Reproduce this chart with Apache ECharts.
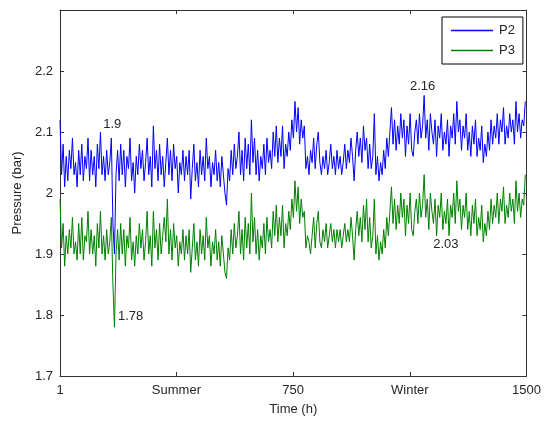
<!DOCTYPE html>
<html>
<head>
<meta charset="utf-8">
<script src="https://cdn.jsdelivr.net/npm/echarts@6/dist/echarts.min.js"></script>
<style>html,body{margin:0;padding:0;background:#fff;}#chart{width:544px;height:421px;}</style>
</head>
<body>
<div id="chart"></div>
<script>
// Time sampling (hours): first sample and spacing between samples
const startHour = 1;
const stepHours = 5;

// Tick positions (hours) and their labels on the time axis
const xTickValues = [1, 375, 750, 1125, 1500];
const xTickLabels = ['1', 'Summer', '750', 'Winter', '1500'];

const seriesNames = ['P2', 'P3'];

// P2 pressure (bar), one value every 5 h
const p2Values = [
  2.12,2.03,2.08,2.01,2.06,2.02,2.07,2.04,2.09,2.03,2.05,2.01,2.07,2.03,2.08,2.02,2.06,2.04,2.09,2.02,
  2.07,2.03,2.06,2.01,2.08,2.04,2.10,2.03,2.06,2.02,2.07,2.03,2.05,2.09,1.95,1.90,2.03,2.07,2.02,2.08,
  2.03,2.07,2.01,2.06,2.04,2.09,2.02,2.05,2.00,2.06,2.03,2.08,2.04,2.07,2.02,2.05,2.09,2.03,2.06,2.01,
  2.11,2.04,2.07,2.02,2.08,2.03,2.06,2.01,2.05,2.09,2.03,2.07,2.02,2.08,2.04,2.06,2.00,2.05,2.03,2.07,
  2.02,2.06,2.03,2.07,1.99,2.04,2.08,2.02,2.05,2.01,2.07,2.03,2.06,2.02,2.09,2.04,2.06,2.01,2.05,2.03,
  2.07,2.02,2.05,2.01,2.06,2.03,2.00,1.98,2.04,2.02,2.07,2.03,2.08,2.04,2.06,2.10,2.03,2.07,2.02,2.09,
  2.04,2.08,2.03,2.12,2.05,2.09,2.03,2.07,2.02,2.06,2.04,2.08,2.03,2.09,2.05,2.07,2.04,2.10,2.06,2.11,
  2.05,2.09,2.06,2.11,2.04,2.08,2.06,2.10,2.07,2.12,2.09,2.15,2.10,2.14,2.08,2.12,2.09,2.11,2.04,2.06,
  2.03,2.07,2.05,2.09,2.04,2.08,2.10,2.05,2.03,2.06,2.04,2.07,2.03,2.05,2.08,2.04,2.06,2.03,2.07,2.04,
  2.06,2.03,2.05,2.08,2.04,2.07,2.05,2.09,2.06,2.02,2.07,2.10,2.06,2.09,2.05,2.11,2.07,2.09,2.04,2.08,
  2.04,2.06,2.13,2.03,2.06,2.02,2.05,2.03,2.07,2.04,2.09,2.06,2.10,2.14,2.08,2.12,2.07,2.11,2.08,2.13,
  2.09,2.12,2.06,2.11,2.08,2.13,2.07,2.06,2.10,2.12,2.08,2.13,2.09,2.11,2.16,2.09,2.12,2.07,2.13,2.10,
  2.08,2.12,2.06,2.11,2.09,2.13,2.07,2.10,2.08,2.12,2.06,2.11,2.09,2.13,2.08,2.15,2.10,2.12,2.07,2.11,
  2.09,2.13,2.07,2.10,2.06,2.11,2.08,2.12,2.06,2.09,2.07,2.11,2.05,2.08,2.06,2.10,2.07,2.12,2.08,2.11,
  2.09,2.13,2.08,2.12,2.10,2.14,2.08,2.11,2.09,2.13,2.10,2.12,2.08,2.15,2.10,2.13,2.09,2.12,2.11,2.15
];

// P3 pressure (bar), one value every 5 h
const p3Values = [
  1.99,1.91,1.95,1.88,1.93,1.90,1.94,1.91,1.96,1.90,1.92,1.89,1.95,1.90,1.96,1.89,1.93,1.92,1.97,1.90,
  1.94,1.90,1.93,1.88,1.95,1.91,1.97,1.90,1.93,1.89,1.94,1.90,1.92,1.96,1.85,1.78,1.90,1.94,1.89,1.95,
  1.90,1.94,1.88,1.93,1.91,1.96,1.89,1.92,1.88,1.93,1.90,1.95,1.91,1.94,1.89,1.92,1.97,1.90,1.93,1.88,
  1.97,1.91,1.94,1.89,1.95,1.90,1.93,1.96,1.92,1.99,1.90,1.94,1.89,1.95,1.91,1.93,1.88,1.92,1.90,1.94,
  1.89,1.93,1.90,1.94,1.87,1.91,1.95,1.89,1.92,1.88,1.94,1.90,1.93,1.89,1.96,1.91,1.93,1.88,1.92,1.90,
  1.94,1.89,1.92,1.88,1.93,1.90,1.87,1.86,1.91,1.89,1.94,1.90,1.95,1.91,1.93,1.97,1.90,1.94,1.89,1.96,
  1.91,1.95,1.90,2.00,1.92,1.96,1.90,1.94,1.89,1.93,1.91,1.95,1.90,1.96,1.92,1.94,1.91,1.97,1.93,1.98,
  1.92,1.96,1.93,1.98,1.91,1.95,1.93,1.97,1.94,1.99,1.96,2.02,1.97,2.01,1.95,1.99,1.96,1.97,1.91,1.93,
  1.92,1.90,1.93,1.96,1.91,1.95,1.97,1.92,1.91,1.94,1.92,1.95,1.91,1.93,1.95,1.92,1.94,1.91,1.94,1.92,
  1.94,1.91,1.93,1.95,1.92,1.94,1.92,1.96,1.93,1.89,1.94,1.97,1.93,1.96,1.92,1.98,1.94,1.99,1.92,1.96,
  1.91,1.93,1.99,1.90,1.93,1.89,1.92,1.90,1.94,1.91,1.96,1.93,1.97,2.01,1.95,1.99,1.94,1.98,1.95,2.00,
  1.96,1.99,1.93,1.98,1.95,2.00,1.94,1.93,1.97,1.99,1.95,2.00,1.96,1.98,2.03,1.96,1.99,1.94,2.00,1.97,
  1.95,1.99,1.93,1.98,1.96,2.00,1.94,1.97,1.95,1.99,1.93,1.98,1.96,2.00,1.95,2.02,1.97,1.99,1.94,1.98,
  1.96,2.00,1.94,1.97,1.93,1.98,1.95,1.99,1.93,1.96,1.94,1.98,1.92,1.95,1.93,1.97,1.94,1.99,1.95,1.98,
  1.96,2.00,1.95,1.99,1.97,2.01,1.95,1.98,1.96,2.00,1.97,1.99,1.95,2.02,1.97,2.00,1.96,1.99,1.98,2.03
];

// Text annotations: [hour, value, text]
const p2Notes = [[169, 2.113, '1.9'], [1166, 2.175, '2.16']];
const p3Notes = [[228, 1.798, '1.78'], [1241, 1.915, '2.03']];

const FONT = "'Liberation Sans', Arial, sans-serif";
const TXT = '#262626';
const AX = '#333333';

function toPairs(vals) {
  return vals.map((v, i) => [startHour + stepHours * i, v]);
}
function notes(list) {
  return {
    symbol: 'circle', symbolSize: 0, silent: true,
    label: { show: true, position: 'inside', color: TXT, fontSize: 13, fontFamily: FONT,
             formatter: p => p.name },
    data: list.map(n => ({ name: n[2], coord: [n[0], n[1]] }))
  };
}

const xBase = {
  type: 'value', min: 1, max: 1500,
  axisLine: { show: true, lineStyle: { color: AX, width: 1 } },
  splitLine: { show: false },
  axisTick: { show: true, inside: true, length: 4, customValues: xTickValues, lineStyle: { color: AX } }
};
const yBase = {
  type: 'value', min: 1.7, max: 2.3, interval: 0.1,
  axisLine: { show: true, lineStyle: { color: AX, width: 1 } },
  splitLine: { show: false },
  axisTick: { show: true, inside: true, length: 4, lineStyle: { color: AX } }
};

const chart = echarts.init(document.getElementById('chart'), null, { renderer: 'canvas' });
chart.setOption({
  animation: false,
  backgroundColor: '#ffffff',
  textStyle: { fontFamily: FONT },
  grid: { left: 60, right: 15, top: 10, bottom: 43, containLabel: false },
  legend: {
    data: seriesNames,
    orient: 'vertical',
    left: 442, top: 17,
    padding: [7, 8, 7, 9],
    itemGap: 7,
    itemWidth: 42, itemHeight: 1.5,
    icon: 'rect',
    borderColor: '#000', borderWidth: 1, borderRadius: 0,
    backgroundColor: '#fff',
    textStyle: { color: TXT, fontSize: 13, fontFamily: FONT, padding: [0, 0, 0, 1] }
  },
  xAxis: [
    Object.assign({}, xBase, {
      position: 'bottom',
      name: 'Time (h)', nameLocation: 'middle', nameGap: 27,
      nameTextStyle: { color: TXT, fontSize: 13, fontFamily: FONT },
      axisLabel: { show: true, customValues: xTickValues, color: TXT, fontSize: 13, fontFamily: FONT, margin: 8,
                   formatter: v => { const k = xTickValues.indexOf(v); return k >= 0 ? xTickLabels[k] : ''; } }
    }),
    Object.assign({}, xBase, { position: 'top', axisLabel: { show: false } })
  ],
  yAxis: [
    Object.assign({}, yBase, {
      position: 'left',
      name: 'Pressure (bar)', nameLocation: 'middle', nameGap: 31, nameRotate: 90,
      nameTextStyle: { color: TXT, fontSize: 13, fontFamily: FONT },
      axisLabel: { show: true, color: TXT, fontSize: 13, fontFamily: FONT, margin: 7, showMaxLabel: false,
                   formatter: v => String(Math.round(v * 10) / 10) }
    }),
    Object.assign({}, yBase, { position: 'right', axisLabel: { show: false } })
  ],
  series: [
    {
      name: seriesNames[0], type: 'line', xAxisIndex: 0, yAxisIndex: 0,
      data: toPairs(p2Values), showSymbol: false, symbol: 'none',
      lineStyle: { color: '#0000ff', width: 1 }, itemStyle: { color: '#0000ff' },
      markPoint: notes(p2Notes), z: 3
    },
    {
      name: seriesNames[1], type: 'line', xAxisIndex: 0, yAxisIndex: 0,
      data: toPairs(p3Values), showSymbol: false, symbol: 'none',
      lineStyle: { color: '#008000', width: 1 }, itemStyle: { color: '#008000' },
      markPoint: notes(p3Notes), z: 2
    }
  ]
});
</script>
</body>
</html>
